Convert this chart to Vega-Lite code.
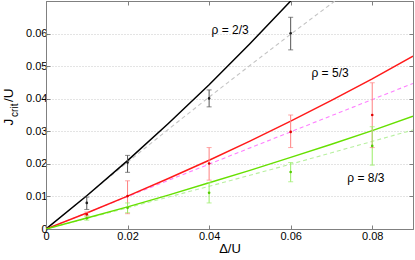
{
  "$schema": "https://vega.github.io/schema/vega-lite/v6.json",
  "width": 367,
  "height": 228,
  "autosize": {"type": "none"},
  "padding": {"left": 46, "top": 1, "right": 2, "bottom": 31},
  "background": "white",
  "config": {
    "view": {"stroke": "#808080", "strokeWidth": 1},
    "font": "Liberation Sans",
    "axis": {
      "labelFont": "Liberation Sans",
      "labelFontSize": 11,
      "labelColor": "#000000",
      "domainColor": "#808080",
      "tickColor": "#808080",
      "tickSize": -4,
      "gridColor": "#c8c8c8",
      "gridDash": [1, 2],
      "titleFont": "Liberation Sans",
      "titleFontSize": 13,
      "titleFontWeight": "normal",
      "titleColor": "#000000",
      "labelFlush": false,
      "labelOverlap": false
    }
  },
  "datasets": {
    "lines": [
      {"s": "k", "st": "solid", "x": 0, "y": 0},
      {"s": "k", "st": "solid", "x": 0.01, "y": 0.0102},
      {"s": "k", "st": "solid", "x": 0.02, "y": 0.021},
      {"s": "k", "st": "solid", "x": 0.03, "y": 0.0324},
      {"s": "k", "st": "solid", "x": 0.04, "y": 0.0443},
      {"s": "k", "st": "solid", "x": 0.05, "y": 0.0569},
      {"s": "k", "st": "solid", "x": 0.06, "y": 0.07},
      {"s": "k", "st": "solid", "x": 0.07, "y": 0.0836},
      {"s": "k", "st": "dash", "x": 0, "y": 0},
      {"s": "k", "st": "dash", "x": 0.01, "y": 0.0103},
      {"s": "k", "st": "dash", "x": 0.02, "y": 0.0205},
      {"s": "k", "st": "dash", "x": 0.03, "y": 0.0306},
      {"s": "k", "st": "dash", "x": 0.04, "y": 0.0405},
      {"s": "k", "st": "dash", "x": 0.05, "y": 0.0502},
      {"s": "k", "st": "dash", "x": 0.06, "y": 0.0598},
      {"s": "k", "st": "dash", "x": 0.07, "y": 0.0692},
      {"s": "k", "st": "dash", "x": 0.08, "y": 0.0785},
      {"s": "r", "st": "solid", "x": 0, "y": 0},
      {"s": "r", "st": "solid", "x": 0.01, "y": 0.0049},
      {"s": "r", "st": "solid", "x": 0.02, "y": 0.0101},
      {"s": "r", "st": "solid", "x": 0.03, "y": 0.0155},
      {"s": "r", "st": "solid", "x": 0.04, "y": 0.0211},
      {"s": "r", "st": "solid", "x": 0.05, "y": 0.027},
      {"s": "r", "st": "solid", "x": 0.06, "y": 0.0331},
      {"s": "r", "st": "solid", "x": 0.07, "y": 0.0395},
      {"s": "r", "st": "solid", "x": 0.08, "y": 0.0461},
      {"s": "r", "st": "solid", "x": 0.09, "y": 0.0531},
      {"s": "r", "st": "dash", "x": 0, "y": 0},
      {"s": "r", "st": "dash", "x": 0.045, "y": 0.0224},
      {"s": "r", "st": "dash", "x": 0.09, "y": 0.0447},
      {"s": "g", "st": "solid", "x": 0, "y": 0},
      {"s": "g", "st": "solid", "x": 0.01, "y": 0.0034},
      {"s": "g", "st": "solid", "x": 0.02, "y": 0.0068},
      {"s": "g", "st": "solid", "x": 0.03, "y": 0.0104},
      {"s": "g", "st": "solid", "x": 0.04, "y": 0.0142},
      {"s": "g", "st": "solid", "x": 0.05, "y": 0.018},
      {"s": "g", "st": "solid", "x": 0.06, "y": 0.022},
      {"s": "g", "st": "solid", "x": 0.07, "y": 0.026},
      {"s": "g", "st": "solid", "x": 0.08, "y": 0.0302},
      {"s": "g", "st": "solid", "x": 0.09, "y": 0.0346},
      {"s": "g", "st": "dash", "x": 0, "y": 0},
      {"s": "g", "st": "dash", "x": 0.01, "y": 0.0032},
      {"s": "g", "st": "dash", "x": 0.02, "y": 0.0065},
      {"s": "g", "st": "dash", "x": 0.03, "y": 0.0098},
      {"s": "g", "st": "dash", "x": 0.04, "y": 0.0131},
      {"s": "g", "st": "dash", "x": 0.05, "y": 0.0165},
      {"s": "g", "st": "dash", "x": 0.06, "y": 0.0199},
      {"s": "g", "st": "dash", "x": 0.07, "y": 0.0234},
      {"s": "g", "st": "dash", "x": 0.08, "y": 0.0269},
      {"s": "g", "st": "dash", "x": 0.09, "y": 0.0304}
    ],
    "err": [
      {"s": "k", "x": 0.01, "y": 0.008, "lo": 0.006, "hi": 0.0098},
      {"s": "k", "x": 0.02, "y": 0.0204, "lo": 0.0174, "hi": 0.0226},
      {"s": "k", "x": 0.04, "y": 0.0401, "lo": 0.0375, "hi": 0.0427},
      {"s": "k", "x": 0.06, "y": 0.0601, "lo": 0.055, "hi": 0.065},
      {"s": "r", "x": 0.01, "y": 0.0045, "lo": 0.004, "hi": 0.0052},
      {"s": "r", "x": 0.02, "y": 0.0101, "lo": 0.0047, "hi": 0.0148},
      {"s": "r", "x": 0.04, "y": 0.0201, "lo": 0.015, "hi": 0.025},
      {"s": "r", "x": 0.06, "y": 0.0298, "lo": 0.025, "hi": 0.035},
      {"s": "r", "x": 0.08, "y": 0.035, "lo": 0.025, "hi": 0.0449},
      {"s": "g", "x": 0.01, "y": 0.0033, "lo": 0.0027, "hi": 0.004},
      {"s": "g", "x": 0.02, "y": 0.0065, "lo": 0.005, "hi": 0.008},
      {"s": "g", "x": 0.04, "y": 0.0111, "lo": 0.008, "hi": 0.0142},
      {"s": "g", "x": 0.06, "y": 0.0175, "lo": 0.0145, "hi": 0.0204},
      {"s": "g", "x": 0.08, "y": 0.0255, "lo": 0.0196, "hi": 0.0314}
    ],
    "notes": [
      {"label": "ρ = 2/3", "x": 0.0406, "y": 0.0611},
      {"label": "ρ = 5/3", "x": 0.0651, "y": 0.0479},
      {"label": "ρ = 8/3", "x": 0.0739, "y": 0.0158}
    ],
    "ytitle": [
      {"part": "J", "x": -0.0081, "y": 0.0318},
      {"part": "crit", "x": -0.0081, "y": 0.0318},
      {"part": "/U", "x": -0.0081, "y": 0.0318}
    ]
  },
  "layer": [
    {
      "data": {"name": "lines"},
      "transform": [{"filter": "datum.st == 'dash'"}],
      "mark": {"type": "line", "strokeWidth": 1.1, "strokeDash": [4, 3], "clip": true},
      "encoding": {
        "x": {"field": "x", "type": "quantitative", "scale": {"domain": [0, 0.09], "nice": false, "zero": false},
          "axis": {"orient": "top", "values": [0, 0.02, 0.04, 0.06, 0.08], "labels": false, "title": null, "grid": false}},
        "y": {"field": "y", "type": "quantitative", "scale": {"domain": [0, 0.07], "nice": false, "zero": false},
          "axis": {"orient": "right", "values": [0, 0.01, 0.02, 0.03, 0.04, 0.05, 0.06], "labels": false, "title": null, "grid": false}},
        "detail": {"field": "s"},
        "color": {"field": "s", "type": "nominal", "legend": null,
          "scale": {"domain": ["k", "r", "g"], "range": ["#c4c4c4", "#ff80ff", "#b8f0a0"]}}
      }
    },
    {
      "data": {"name": "lines"},
      "transform": [{"filter": "datum.st == 'solid'"}],
      "mark": {"type": "line", "strokeWidth": 1.5, "clip": true},
      "encoding": {
        "x": {"field": "x", "type": "quantitative",
          "axis": {"orient": "bottom", "values": [0, 0.02, 0.04, 0.06, 0.08], "labelExpr": "datum.value == 0 ? '0' : format(datum.value, '.2f')", "labelPadding": 5, "title": "Δ/U", "titlePadding": 1, "grid": false}},
        "y": {"field": "y", "type": "quantitative",
          "axis": {"orient": "left", "values": [0, 0.01, 0.02, 0.03, 0.04, 0.05, 0.06], "labelExpr": "datum.value == 0 ? '0' : format(datum.value, '.2f')", "labelPadding": 3, "title": null, "grid": true}},
        "color": {"field": "s", "type": "nominal", "legend": null,
          "scale": {"domain": ["k", "r", "g"], "range": ["#000000", "#ff1a1a", "#66e000"]}}
      }
    },
    {
      "data": {"name": "err"},
      "mark": {"type": "rule", "strokeWidth": 1},
      "encoding": {
        "x": {"field": "x", "type": "quantitative", "axis": null},
        "y": {"field": "lo", "type": "quantitative", "axis": null},
        "y2": {"field": "hi"},
        "color": {"field": "s", "type": "nominal", "legend": null,
          "scale": {"domain": ["k", "r", "g"], "range": ["#555555", "#ff8080", "#99ee66"]}}
      }
    },
    {
      "data": {"name": "err"},
      "mark": {"type": "tick", "orient": "horizontal", "size": 5, "thickness": 1},
      "encoding": {
        "x": {"field": "x", "type": "quantitative", "axis": null},
        "y": {"field": "lo", "type": "quantitative", "axis": null},
        "color": {"field": "s", "type": "nominal", "legend": null,
          "scale": {"domain": ["k", "r", "g"], "range": ["#555555", "#ff8080", "#99ee66"]}}
      }
    },
    {
      "data": {"name": "err"},
      "mark": {"type": "tick", "orient": "horizontal", "size": 5, "thickness": 1},
      "encoding": {
        "x": {"field": "x", "type": "quantitative", "axis": null},
        "y": {"field": "hi", "type": "quantitative", "axis": null},
        "color": {"field": "s", "type": "nominal", "legend": null,
          "scale": {"domain": ["k", "r", "g"], "range": ["#555555", "#ff8080", "#99ee66"]}}
      }
    },
    {
      "data": {"name": "err"},
      "mark": {"type": "circle", "size": 7, "opacity": 1},
      "encoding": {
        "x": {"field": "x", "type": "quantitative", "axis": null},
        "y": {"field": "y", "type": "quantitative", "axis": null},
        "color": {"field": "s", "type": "nominal", "legend": null,
          "scale": {"domain": ["k", "r", "g"], "range": ["#222222", "#e00000", "#55cc00"]}}
      }
    },
    {
      "data": {"name": "notes"},
      "mark": {"type": "text", "align": "left", "baseline": "middle", "fontSize": 12, "font": "Liberation Sans", "color": "#000000"},
      "encoding": {
        "x": {"field": "x", "type": "quantitative", "axis": null},
        "y": {"field": "y", "type": "quantitative", "axis": null},
        "text": {"field": "label"}
      }
    },
    {
      "data": {"name": "ytitle"},
      "transform": [{"filter": "datum.part == 'J'"}],
      "mark": {"type": "text", "align": "left", "baseline": "alphabetic", "angle": 270, "fontSize": 13.5, "font": "Liberation Sans", "color": "#000000", "clip": false},
      "encoding": {
        "x": {"field": "x", "type": "quantitative", "axis": null},
        "y": {"field": "y", "type": "quantitative", "axis": null},
        "text": {"field": "part"}
      }
    },
    {
      "data": {"name": "ytitle"},
      "transform": [{"filter": "datum.part == 'crit'"}],
      "mark": {"type": "text", "align": "left", "baseline": "alphabetic", "angle": 270, "fontSize": 10, "dx": 8.5, "dy": 5, "font": "Liberation Sans", "color": "#000000", "clip": false},
      "encoding": {
        "x": {"field": "x", "type": "quantitative", "axis": null},
        "y": {"field": "y", "type": "quantitative", "axis": null},
        "text": {"field": "part"}
      }
    },
    {
      "data": {"name": "ytitle"},
      "transform": [{"filter": "datum.part == '/U'"}],
      "mark": {"type": "text", "align": "left", "baseline": "alphabetic", "angle": 270, "fontSize": 13.5, "dx": 23.5, "font": "Liberation Sans", "color": "#000000", "clip": false},
      "encoding": {
        "x": {"field": "x", "type": "quantitative", "axis": null},
        "y": {"field": "y", "type": "quantitative", "axis": null},
        "text": {"field": "part"}
      }
    }
  ],
  "resolve": {
    "axis": {"x": "independent", "y": "independent"},
    "scale": {"color": "independent"}
  }
}
